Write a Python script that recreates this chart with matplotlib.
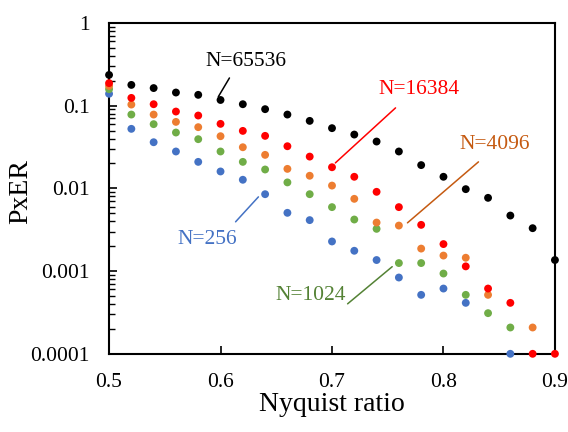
import numpy as np
import matplotlib
matplotlib.use("Agg")
import matplotlib.pyplot as plt
from matplotlib.ticker import FixedLocator, FuncFormatter, LogLocator, NullFormatter

nan = np.nan

# Nyquist ratio (x) and PxER per image size N
nyquist = [0.50, 0.52, 0.54, 0.56, 0.58, 0.60, 0.62, 0.64, 0.66, 0.68, 0.70,
           0.72, 0.74, 0.76, 0.78, 0.80, 0.82, 0.84, 0.86, 0.88, 0.90]
pxer_256 = [0.139, 0.0524, 0.0361, 0.0279, 0.0209, 0.0160, 0.0127, 0.0085, 0.00506, 0.00413,
            0.00228, 0.00176, 0.00136, 0.000836, 0.000516, 0.000615, 0.000413, nan, 0.0001, nan, nan]
pxer_1024 = [0.158, 0.078, 0.0597, 0.0473, 0.0393, 0.0279, 0.0209, 0.0169, 0.0118, 0.0085,
             0.00593, 0.0042, 0.00324, 0.00125, 0.00125, 0.000934, 0.000516, 0.00031, 0.000208, nan, nan]
pxer_4096 = [0.173, 0.103, 0.078, 0.0636, 0.0549, 0.0427, 0.0314, 0.0254, 0.0172, 0.0142,
             0.0108, 0.00747, 0.00386, 0.00355, 0.00187, 0.00154, 0.00145, 0.000516, nan, 0.000208, nan]
pxer_16384 = [0.187, 0.124, 0.104, 0.0848, 0.0759, 0.0602, 0.0495, 0.0431, 0.0323, 0.0242,
              0.0180, 0.0138, 0.00908, 0.00593, 0.00362, 0.00212, 0.00114, 0.000615, 0.000413, 0.0001, 0.0001]
pxer_65536 = [0.235, 0.178, 0.163, 0.144, 0.135, 0.117, 0.104, 0.0906, 0.078, 0.0654,
              0.0534, 0.0447, 0.0368, 0.0279, 0.0191, 0.0138, 0.00978, 0.00768, 0.00469, 0.0033, 0.00136]

series = [
    # data, marker colour, label colour, label pos, leader line (start, end)
    (pxer_256, "#4472C4", "#4472C4", "N=256", (0.588, 0.00239), ((0.634, 0.00789), (0.6135, 0.00394))),
    (pxer_1024, "#70AD47", "#548235", "N=1024", (0.681, 0.000502), ((0.754, 0.00113), (0.714, 0.000402))),
    (pxer_4096, "#ED7D31", "#C55A11", "N=4096", (0.846, 0.0336), ((0.8314, 0.0209), (0.7677, 0.00383))),
    (pxer_16384, "#FF0000", "#FF0000", "N=16384", (0.778, 0.155), ((0.757, 0.0939), (0.703, 0.0203))),
    (pxer_65536, "#000000", "#000000", "N=65536", (0.623, 0.338), ((0.608, 0.216), (0.598, 0.128))),
]

plt.rcParams["font.family"] = ["Liberation Serif", "DejaVu Serif"]

fig = plt.figure(figsize=(5.68, 4.32), dpi=100)
ax = fig.add_axes([0.192, 0.181, 0.785, 0.766])

for vals, mcol, tcol, label, tpos, (p0, p1) in series:
    ax.scatter(nyquist, vals, s=32, color=mcol, edgecolors="none", clip_on=False, zorder=3)
    ax.annotate("", xy=p1, xytext=p0,
                arrowprops=dict(arrowstyle="-", color=tcol, lw=1.1, shrinkA=0, shrinkB=0))
    ax.text(tpos[0], tpos[1], label, color=tcol, fontsize=15.5, ha="center", va="center")

ax.set_yscale("log")
ax.set_xlim(0.5, 0.9)
ax.set_ylim(1e-4, 1)

ax.xaxis.set_major_locator(FixedLocator([0.5, 0.6, 0.7, 0.8, 0.9]))
ax.xaxis.set_major_formatter(FuncFormatter(lambda v, _: f"{v:.1f}"))
ax.yaxis.set_major_locator(FixedLocator([1e-4, 1e-3, 1e-2, 1e-1, 1]))
ax.yaxis.set_major_formatter(FuncFormatter(lambda v, _: f"{v:.4f}".rstrip("0").rstrip(".") if v < 1 else "1"))
ax.yaxis.set_minor_locator(LogLocator(base=10, subs=np.arange(2, 10)))
ax.yaxis.set_minor_formatter(NullFormatter())

ax.tick_params(axis="both", which="major", direction="in", length=6, width=1.2, labelsize=15.5)
ax.tick_params(axis="y", which="minor", direction="in", length=4, width=1.0)
ax.tick_params(axis="x", pad=14)
ax.tick_params(axis="y", pad=14)
ax.tick_params(top=False, right=False)

for sp in ax.spines.values():
    sp.set_linewidth(1.5)
    sp.set_color("black")

ax.set_xlabel("Nyquist ratio", fontsize=20, labelpad=0)
ax.set_ylabel("PxER", fontsize=20)
ax.yaxis.set_label_coords(-0.17, 0.49)

fig.savefig("out.png", dpi=100)
